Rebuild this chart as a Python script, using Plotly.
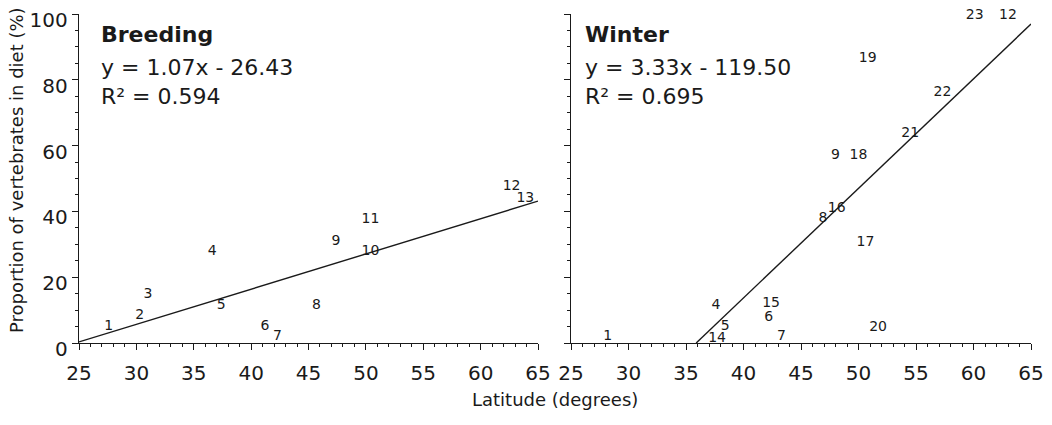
import plotly.graph_objects as go

# Breeding season data (latitude, % vertebrates in diet, site label)
breed_lat = [27.6, 30.3, 31.0, 36.6, 37.4, 41.2, 42.3, 45.7, 47.4, 50.4, 50.4, 62.7, 63.9]
breed_vert = [5.0, 8.3, 14.6, 27.8, 11.3, 4.9, 2.0, 11.3, 30.8, 27.8, 37.4, 47.7, 44.0]
breed_lab = ["1", "2", "3", "4", "5", "6", "7", "8", "9", "10", "11", "12", "13"]

# Winter data
wint_lat = [28.2, 37.7, 38.4, 37.6, 42.4, 42.2, 43.3, 51.7, 50.6, 46.9, 48.1, 48.0, 50.0, 54.5, 57.3, 50.8, 60.1, 63.0]
wint_vert = [1.9, 1.4, 5.0, 11.3, 12.0, 7.7, 1.9, 4.6, 30.7, 37.7, 41.0, 57.1, 57.1, 63.7, 76.2, 86.5, 99.5, 99.5]
wint_lab = ["1", "14", "5", "4", "15", "6", "7", "20", "17", "8", "16", "9", "18", "21", "22", "19", "23", "12"]

# Regression fits
breed_slope, breed_int, breed_r2 = 1.07, -26.43, 0.594
wint_slope, wint_int, wint_r2 = 3.33, -119.50, 0.695

x_ticks = [25, 30, 35, 40, 45, 50, 55, 60, 65]
y_ticks = [0, 20, 40, 60, 80, 100]

FONT = "DejaVu Sans"
INK = "#1a1a1a"

fig = go.Figure()

# text markers
fig.add_trace(go.Scatter(x=breed_lat, y=breed_vert, text=breed_lab, mode="text",
                         textfont=dict(family=FONT, size=14, color=INK),
                         cliponaxis=False, xaxis="x", yaxis="y", showlegend=False))
fig.add_trace(go.Scatter(x=wint_lat, y=wint_vert, text=wint_lab, mode="text",
                         textfont=dict(family=FONT, size=14, color=INK),
                         cliponaxis=False, xaxis="x2", yaxis="y2", showlegend=False))

# regression lines
bx0 = max(25, -breed_int / breed_slope)
bx = [bx0, 65]
fig.add_trace(go.Scatter(x=bx, y=[breed_slope * v + breed_int for v in bx], mode="lines",
                         line=dict(color=INK, width=1.4), xaxis="x", yaxis="y", showlegend=False))
wx0 = max(25, -wint_int / wint_slope)
wx = [wx0, 65]
fig.add_trace(go.Scatter(x=wx, y=[wint_slope * v + wint_int for v in wx], mode="lines",
                         line=dict(color=INK, width=1.4), xaxis="x2", yaxis="y2", showlegend=False))

L, R, T, B = 79, 21, 14, 82
W, H = 1052, 425
pw = W - L - R
ph = H - T - B

def px_x(p):
    return (p - L) / pw

def px_y(p):
    return (H - B - p) / ph

xax = dict(range=[25, 65], tickvals=x_ticks, showline=True, linecolor=INK, linewidth=1.4,
           ticks="outside", ticklen=6, tickwidth=1.4, tickcolor=INK,
           minor=dict(dtick=1, ticks="outside", ticklen=3, tickwidth=1, tickcolor=INK),
           showgrid=False, zeroline=False, ticklabelstandoff=6, automargin=False,
           ticklabeloverflow="allow",
           tickfont=dict(family=FONT, size=20, color=INK))
yax = dict(range=[0, 100], tickvals=y_ticks, showline=True, linecolor=INK, linewidth=1.4,
           ticks="outside", ticklen=6, tickwidth=1.4, tickcolor=INK,
           minor=dict(dtick=5, ticks="outside", ticklen=3, tickwidth=1, tickcolor=INK),
           showgrid=False, zeroline=False, automargin=False, ticklabelshift=6,
           ticklabeloverflow="allow",
           tickfont=dict(family=FONT, size=20, color=INK))

fig.update_layout(
    width=W, height=H,
    margin=dict(l=L, r=R, t=T, b=B, autoexpand=False),
    plot_bgcolor="white", paper_bgcolor="white",
    xaxis=dict(xax, domain=[0, px_x(538)], anchor="y"),
    yaxis=dict(yax, anchor="x"),
    xaxis2=dict(xax, domain=[px_x(571), 1], anchor="y2"),
    yaxis2=dict(yax, anchor="x2", showticklabels=False),
)

ann = []
for x0, title, slope, inter, r2 in [(99, "Breeding", breed_slope, breed_int, breed_r2),
                                     (583, "Winter", wint_slope, wint_int, wint_r2)]:
    sign = "-" if inter < 0 else "+"
    ann.append(dict(x=px_x(x0), y=px_y(35), xref="paper", yref="paper", xanchor="left", yanchor="middle",
                    text=f"<b>{title}</b>", showarrow=False,
                    font=dict(family=FONT, size=22, color=INK)))
    ann.append(dict(x=px_x(x0), y=px_y(68), xref="paper", yref="paper", xanchor="left", yanchor="middle",
                    text=f"y = {slope:.2f}x {sign} {abs(inter):.2f}", showarrow=False,
                    font=dict(family=FONT, size=22, color=INK)))
    ann.append(dict(x=px_x(x0), y=px_y(97), xref="paper", yref="paper", xanchor="left", yanchor="middle",
                    text=f"R² = {r2:.3f}", showarrow=False,
                    font=dict(family=FONT, size=22, color=INK)))

ann.append(dict(x=0.5, y=px_y(400), xref="paper", yref="paper", xanchor="center", yanchor="middle",
                text="Latitude (degrees)", showarrow=False, font=dict(family=FONT, size=18, color=INK)))
ann.append(dict(x=px_x(17), y=px_y(170), xref="paper", yref="paper", xanchor="center", yanchor="middle",
                text="Proportion of vertebrates in diet (%)", textangle=-90, showarrow=False,
                font=dict(family=FONT, size=18, color=INK)))
fig.update_layout(annotations=ann)

# remove the browser's default 8px page margin so the figure fills the window exactly
fig.write_html("out.html", config={"displayModeBar": False},
               post_script="document.body.style.margin='0';document.body.style.overflow='hidden';")
